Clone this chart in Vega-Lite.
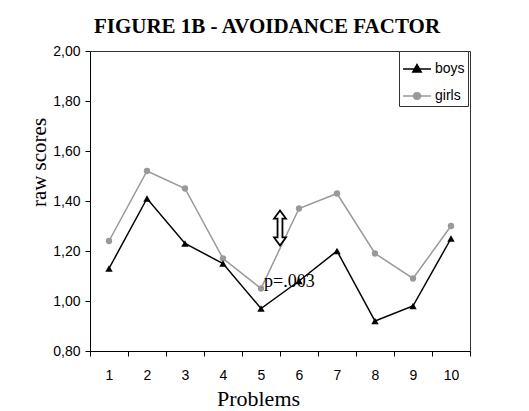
{
  "$schema": "https://vega.github.io/schema/vega-lite/v6.json",
  "width": 380,
  "height": 300,
  "autosize": {"type": "none"},
  "padding": {"left": 90, "top": 51, "right": 59, "bottom": 60},
  "background": "white",
  "title": {
    "text": "FIGURE 1B - AVOIDANCE FACTOR",
    "font": "Liberation Serif",
    "fontSize": 21,
    "fontWeight": "bold",
    "color": "#000000",
    "anchor": "middle",
    "dx": -13,
    "baseline": "alphabetic",
    "offset": -10
  },
  "datasets": {
    "scores": [
      {"problem": "1", "group": "girls", "score": 1.24},
      {"problem": "2", "group": "girls", "score": 1.52},
      {"problem": "3", "group": "girls", "score": 1.45},
      {"problem": "4", "group": "girls", "score": 1.17},
      {"problem": "5", "group": "girls", "score": 1.05},
      {"problem": "6", "group": "girls", "score": 1.37},
      {"problem": "7", "group": "girls", "score": 1.43},
      {"problem": "8", "group": "girls", "score": 1.19},
      {"problem": "9", "group": "girls", "score": 1.09},
      {"problem": "10", "group": "girls", "score": 1.30},
      {"problem": "1", "group": "boys", "score": 1.13},
      {"problem": "2", "group": "boys", "score": 1.41},
      {"problem": "3", "group": "boys", "score": 1.23},
      {"problem": "4", "group": "boys", "score": 1.15},
      {"problem": "5", "group": "boys", "score": 0.97},
      {"problem": "6", "group": "boys", "score": 1.08},
      {"problem": "7", "group": "boys", "score": 1.20},
      {"problem": "8", "group": "boys", "score": 0.92},
      {"problem": "9", "group": "boys", "score": 0.98},
      {"problem": "10", "group": "boys", "score": 1.25}
    ],
    "notes": [
      {"problem": "5", "score": 1.292, "kind": "arrow", "label": ""},
      {"problem": "5", "score": 1.058, "kind": "text", "label": "p=.003"}
    ]
  },
  "data": {"name": "scores"},
  "encoding": {
    "x": {
      "field": "problem",
      "type": "nominal",
      "scale": {"type": "band", "domain": ["1","2","3","4","5","6","7","8","9","10"], "paddingInner": 0, "paddingOuter": 0},
      "axis": {
        "title": "Problems",
        "titleFont": "Liberation Serif",
        "titleFontSize": 22,
        "titleFontWeight": "normal",
        "titleX": 168,
        "titleY": 54,
        "titleBaseline": "alphabetic",
        "tickBand": "extent",
        "labelAngle": 0,
        "tickSize": 5,
        "labelPadding": 12
      }
    },
    "y": {
      "field": "score",
      "type": "quantitative",
      "scale": {"domain": [0.8, 2.0], "nice": false, "zero": false},
      "axis": {
        "title": "raw scores",
        "titleFont": "Liberation Serif",
        "titleFontSize": 21,
        "titleFontWeight": "normal",
        "titleX": -45,
        "titleY": 111,
        "titleBaseline": "alphabetic",
        "values": [0.8, 1.0, 1.2, 1.4, 1.6, 1.8, 2.0],
        "labelExpr": "replace(format(datum.value, '.2f'), '.', ',')",
        "tickSize": 5,
        "labelPadding": 5
      }
    }
  },
  "layer": [
    {
      "transform": [{"filter": "datum.group === 'girls'"}],
      "mark": {"type": "line", "color": "#999999", "strokeWidth": 1.5}
    },
    {
      "transform": [{"filter": "datum.group === 'girls'"}],
      "mark": {"type": "point", "shape": "circle", "filled": true, "color": "#999999", "size": 40, "opacity": 1}
    },
    {
      "transform": [{"filter": "datum.group === 'boys'"}],
      "mark": {"type": "line", "color": "#000000", "strokeWidth": 1.5}
    },
    {
      "transform": [{"filter": "datum.group === 'boys'"}],
      "mark": {"type": "point", "shape": "triangle-up", "filled": true, "color": "#000000", "size": 55, "opacity": 1}
    },
    {
      "mark": {"type": "point", "filled": true, "opacity": 0},
      "encoding": {
        "color": {
          "field": "group",
          "type": "nominal",
          "scale": {"domain": ["boys", "girls"], "range": ["#000000", "#999999"]},
          "legend": {
            "title": null,
            "orient": "none",
            "legendX": 309,
            "legendY": 0,
            "strokeColor": "#333333",
            "fillColor": "white",
            "padding": 3,
            "symbolSize": 784,
            "symbolStrokeWidth": 1.5,
            "symbolOpacity": 1,
            "labelFont": "Liberation Sans",
            "labelFontSize": 14,
            "labelColor": "#000000",
            "labelOffset": 3,
            "rowPadding": 5,
            "encode": {
              "symbols": {
                "update": {
                  "stroke": {"signal": "datum.value === 'boys' ? '#000000' : '#999999'"},
                  "opacity": {"value": 1}
                }
              }
            }
          }
        },
        "shape": {
          "field": "group",
          "type": "nominal",
          "scale": {
            "domain": ["boys", "girls"],
            "range": [
              "M-1,0H1M0,-0.32L0.3,0.22L-0.3,0.22Z",
              "M-1,0H1M0.24,0A0.24,0.24,0,1,1,-0.24,0A0.24,0.24,0,1,1,0.24,0Z"
            ]
          },
          "legend": {
            "title": null,
            "orient": "none",
            "legendX": 309,
            "legendY": 0,
            "strokeColor": "#333333",
            "fillColor": "white",
            "padding": 3,
            "symbolSize": 784,
            "symbolStrokeWidth": 1.5,
            "symbolOpacity": 1,
            "labelFont": "Liberation Sans",
            "labelFontSize": 14,
            "labelColor": "#000000",
            "labelOffset": 3,
            "rowPadding": 5,
            "encode": {
              "symbols": {
                "update": {
                  "stroke": {"signal": "datum.value === 'boys' ? '#000000' : '#999999'"},
                  "opacity": {"value": 1}
                }
              }
            }
          }
        }
      }
    },
    {
      "data": {"name": "notes"},
      "transform": [{"filter": "datum.kind === 'arrow'"}],
      "mark": {
        "type": "point",
        "shape": "M0,-1L0.34,-0.54L0.14,-0.54L0.14,0.54L0.34,0.54L0,1L-0.34,0.54L-0.14,0.54L-0.14,-0.54L-0.34,-0.54Z",
        "size": 1225,
        "filled": false,
        "fill": "white",
        "stroke": "#000000",
        "strokeWidth": 1.8,
        "opacity": 1
      },
      "encoding": {
        "x": {"field": "problem", "type": "nominal", "bandPosition": 1}
      }
    },
    {
      "data": {"name": "notes"},
      "transform": [{"filter": "datum.kind === 'text'"}],
      "mark": {
        "type": "text",
        "font": "Liberation Serif",
        "fontSize": 18,
        "align": "left",
        "baseline": "alphabetic",
        "dx": 3,
        "color": "#000000"
      },
      "encoding": {
        "text": {"field": "label"}
      }
    }
  ],
  "config": {
    "view": {"stroke": "#333333", "strokeWidth": 1},
    "axis": {
      "grid": false,
      "domainColor": "#000000",
      "tickColor": "#000000",
      "labelFont": "Liberation Sans",
      "labelFontSize": 14,
      "labelColor": "#000000",
      "titleColor": "#000000"
    }
  }
}
